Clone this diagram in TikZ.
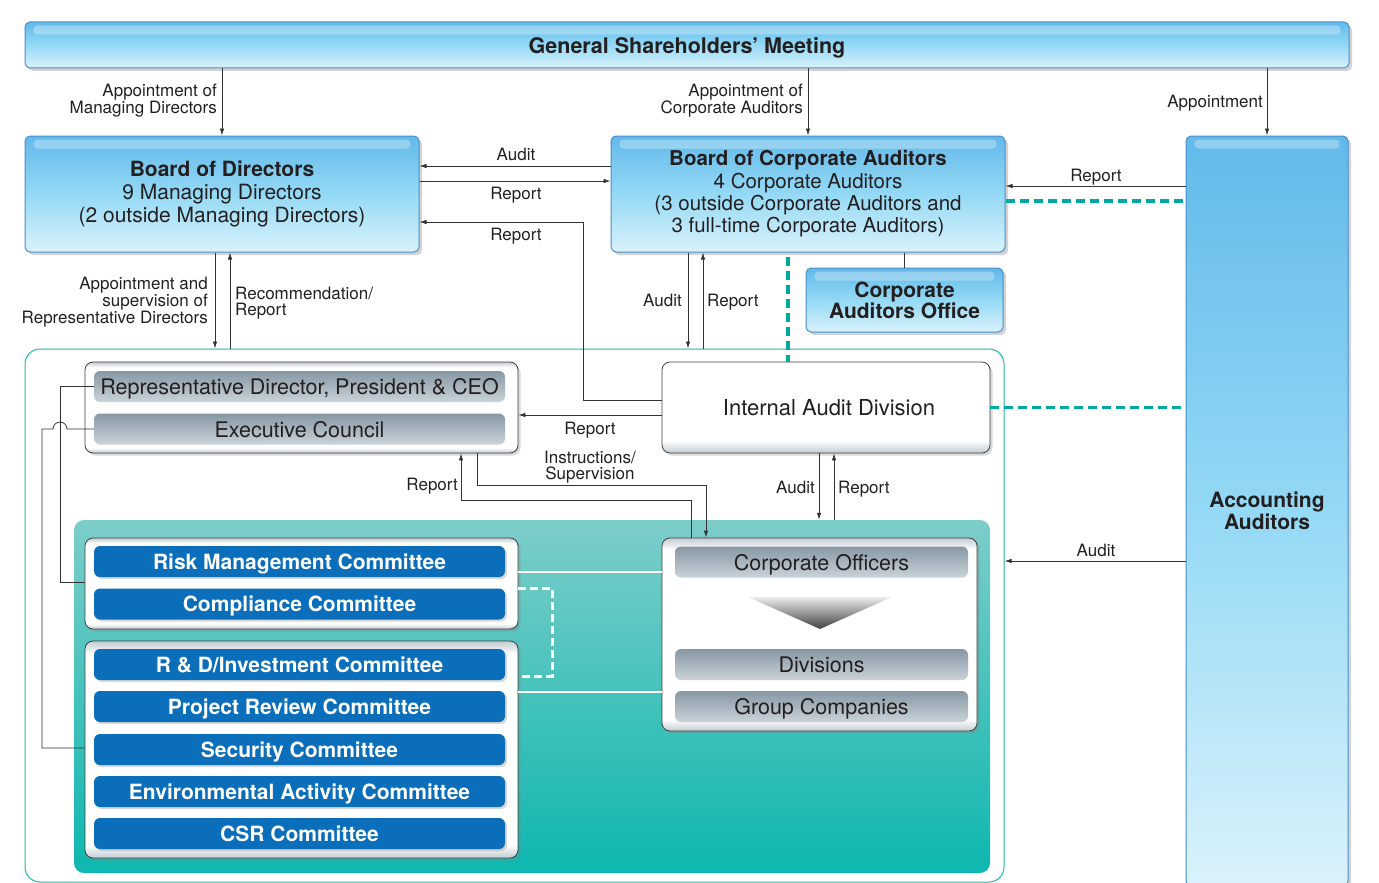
\documentclass[tikz,border=0pt]{standalone}
\usepackage{fontspec}
\setmainfont{TeX Gyre Heros}
\usetikzlibrary{shadows,arrows.meta,calc}
\definecolor{bbord}{HTML}{4A8FC9}
\definecolor{btop}{HTML}{62B9EA}
\definecolor{bmid}{HTML}{94D9F5}
\definecolor{bbot}{HTML}{DAF2FB}
\definecolor{tealc}{HTML}{00A99D}
\definecolor{tealtop}{HTML}{7DCDC9}
\definecolor{tealbot}{HTML}{0DB7AF}
\definecolor{cblue}{HTML}{0A6EBA}
\definecolor{gtop}{HTML}{8797A3}
\definecolor{gbot}{HTML}{C9D3DA}
\definecolor{grim}{HTML}{C2CCD3}
\definecolor{lnc}{HTML}{333333}
\definecolor{txt}{HTML}{231F20}
\pgfdeclareverticalshading{rim}{100bp}{color(0bp)=(grim); color(25bp)=(grim); color(28bp)=(white); color(72bp)=(white); color(75bp)=(grim); color(100bp)=(grim)}
\pgfdeclareverticalshading{iadsh}{100bp}{color(0bp)=(grim); color(25bp)=(grim); color(32bp)=(white); color(100bp)=(white)}
\newcommand\fsz[2]{\fontsize{#1pt}{#2pt}\selectfont}
\begin{document}
\begin{tikzpicture}[x=1pt,y=-1pt,
  bluebox/.style={draw=bbord, line width=1pt, rounded corners=5pt, top color=btop, bottom color=bbot, middle color=bmid, drop shadow={opacity=0.35,shadow xshift=3pt,shadow yshift=-3pt}, inner sep=0pt, align=center, text=txt},
  grp/.style={draw=black!75, line width=0.8pt, rounded corners=8pt, shade, shading=rim, drop shadow={opacity=0.3,shadow xshift=2.5pt,shadow yshift=-2.5pt}, inner sep=0pt, text=txt},
  graybar/.style={rounded corners=6pt, top color=gtop, bottom color=gbot, minimum width=411pt, minimum height=31pt, inner sep=0pt, text depth=0pt, font=\fsz{21.5}{22}, text=txt},
  bluebar/.style={rounded corners=6pt, fill=cblue, text=white, font=\bfseries\fsz{21}{22}, minimum width=411pt, minimum height=31pt, inner sep=0pt, text depth=0pt, drop shadow={opacity=0.3,shadow xshift=2pt,shadow yshift=-2pt}},
  lbl/.style={font=\fsz{17}{16}, text=txt, inner sep=0pt, text depth=0pt},
  arr/.style={draw=lnc, line width=0.8pt, -{Latex[length=7pt,width=4.5pt]}},
  ln/.style={draw=lnc, line width=0.8pt},
  tdash/.style={draw=tealc, line width=3.5pt, dash pattern=on 9pt off 5pt},
  wdash/.style={draw=white, line width=3pt, dash pattern=on 8pt off 4pt},
  wline/.style={draw=white, line width=1.8pt}
]
\useasboundingbox (0,0) rectangle (1379,883);

% outer container and teal area
\node[draw=tealc!85, line width=1pt, rounded corners=15pt, minimum width=979pt, minimum height=533pt, inner sep=0pt] (outer) at (514.5,615.5) {};
\node[rounded corners=10pt, top color=tealtop, bottom color=tealbot, minimum width=916pt, minimum height=353pt, inner sep=0pt] (tealarea) at (532,696.5) {};

% blue boxes
\node[bluebox, minimum width=1324pt, minimum height=46pt, text depth=0pt, font=\bfseries\fsz{21.5}{22}] (gsm) at (687,45) {General Shareholders’ Meeting};
\node[bluebox, minimum width=394pt, minimum height=116pt, font=\fsz{21}{23}] (bod) at (222,194) {\textbf{Board of Directors}\\9 Managing Directors\\(2 outside Managing Directors)};
\node[bluebox, minimum width=394pt, minimum height=116pt, font=\fsz{20.5}{22.3}] (bca) at (808,194) {\textbf{Board of Corporate Auditors}\\4 Corporate Auditors\\(3 outside Corporate Auditors and\\3 full-time Corporate Auditors)};
\node[bluebox, minimum width=162pt, minimum height=750pt, font=\bfseries\fsz{21}{22}] (aa) at (1267,511) {Accounting\\Auditors};
\node[bluebox, minimum width=197pt, minimum height=64pt, font=\bfseries\fsz{21}{21}] (cao) at (904.5,300) {Corporate\\Auditors Office};
\foreach \n in {gsm,bod,bca,aa,cao}{
  \fill[white,opacity=0.3,rounded corners=4pt] ($(\n.north west)+(9,4)$) rectangle ($(\n.north east)+(-9,13)$);
}

\coordinate (hopr) at (67,429);

% representative group
\node[grp, minimum width=433pt, minimum height=91pt] (rep) at (301.5,407.5) {};
\node[graybar] (ceo) at (299.5,386.5) {Representative Director, President \& CEO};
\node[graybar] (exec) at (299.5,429) {Executive Council};

% internal audit
\node[grp, shading=iadsh, minimum width=328pt, minimum height=91pt, text depth=0pt, font=\fsz{22}{22}] (iad) at (826,407.5) {\hspace*{6pt}Internal Audit Division};

% committees
\node[grp, minimum width=433pt, minimum height=91pt] (g1) at (301.5,583.5) {};
\node[bluebar] (risk) at (299.5,561.5) {Risk Management Committee};
\node[bluebar] (comp) at (299.5,604) {Compliance Committee};
\node[grp, minimum width=433pt, minimum height=217pt] (g2) at (301.5,749.5) {};
\node[bluebar] (rd) at (299.5,664.5) {R \& D/Investment Committee};
\node[bluebar] (pr) at (299.5,706.5) {Project Review Committee};
\node[bluebar] (sec) at (299.5,749.5) {Security Committee};
\node[bluebar] (env) at (299.5,791.5) {Environmental Activity Committee};
\node[bluebar] (csr) at (299.5,833.5) {CSR Committee};

% corporate officers
\node[grp, minimum width=315pt, minimum height=193pt] (co) at (819.5,634.5) {};
\node[graybar, minimum width=293pt] (cofc) at (821.5,562) {Corporate Officers};
\node[graybar, minimum width=293pt] (div) at (821.5,664.5) {Divisions};
\node[graybar, minimum width=293pt] (gc) at (821.5,706.5) {Group Companies};
\shade[top color=gray!15, bottom color=black!75] (748,597) -- (892,597) -- (820,629) -- cycle;

% white links
\draw[wline] (g1.east |- 0,572) -- (co.west |- 0,572);
\draw[wline] (g2.east |- 0,692) -- (co.west |- 0,692);
\draw[wdash] (g1.east |- 0,588) -- (552,588) -- (552,676) -- (g2.east |- 0,676);

% left gray links
\draw[ln] (ceo.west) -- (60,386.5) -- (60,582) -- (g1.west |- 0,582);
\draw[ln] (exec.west) -- (hopr) arc[start angle=0,end angle=-180,radius=7] -- (42,429) -- (42,748) -- (g2.west |- 0,748);

% teal dashed
\draw[tdash] (bca.east |- 0,201) -- (aa.west |- 0,201);
\draw[tdash] (788,257) -- (iad.north -| 788,0);
\draw[tdash] (iad.east) -- (aa.west |- iad.east);

% arrows from GSM
\draw[arr] (gsm.south -| bod.north) -- (bod.north);
\draw[arr] (gsm.south -| bca.north) -- (bca.north);
\draw[arr] (gsm.south -| aa.north) -- (aa.north);
\node[lbl, anchor=east, align=right] (l1) at (217,99) {Appointment of\\Managing Directors};
\node[lbl, anchor=east, align=right] (l2) at (803,99) {Appointment of\\Corporate Auditors};
\node[lbl, anchor=east, align=right] (l3) at (1263,101) {Appointment};

% BoD <-> BCA
\draw[arr] (bca.west |- 0,166) -- (bod.east |- 0,166);
\draw[arr] (bod.east |- 0,181) -- (bca.west |- 0,181);
\draw[arr] (iad.west |- 0,400) -- (583,400) -- (583,222) -- (bod.east |- 0,222);
\node[lbl] (l4) at (516,154) {Audit};
\node[lbl] (l5) at (516,193) {Report};
\node[lbl] (l6) at (516,234) {Report};

% AA -> BCA
\draw[arr] (aa.west |- 0,186) -- (bca.east |- 0,186);
\node[lbl] (l7) at (1096,175) {Report};
\draw[ln] (bca.south -| cao.north) -- (cao.north);

% BCA <-> outer
\draw[arr] (bca.south -| 688,0) -- (outer.north -| 688,0);
\draw[arr] (outer.north -| 703,0) -- (bca.south -| 703,0);
\node[lbl, anchor=east] (l8) at (682,300) {Audit};
\node[lbl, anchor=west] (l9) at (707,300) {Report};

% BoD <-> outer
\draw[arr] (bod.south -| 215,0) -- (outer.north -| 215,0);
\draw[arr] (outer.north -| 230,0) -- (bod.south -| 230,0);
\node[lbl, anchor=east, align=right] (l10) at (208,300) {Appointment and\\supervision of\\Representative Directors};
\node[lbl, anchor=west, align=left] (l11) at (235,301) {Recommendation/\\Report};

% IAD -> rep
\draw[arr] (iad.west |- 0,415) -- (rep.east |- 0,415);
\node[lbl] (l12) at (590,428) {Report};

% rep <-> CO
\draw[arr] (rep.south -| 477,0) -- (477,485) -- (706,485) -- (co.north -| 706,0);
\draw[arr] (co.north -| 691,0) -- (691,500) -- (461,500) -- (rep.south -| 461,0);
\node[lbl, align=center] (l13) at (590,465) {Instructions/\\Supervision};
\node[lbl, anchor=east] (l14) at (458,484) {Report};

% IAD <-> teal area
\draw[arr] (iad.south -| 819,0) -- (tealarea.north -| 819,0);
\draw[arr] (tealarea.north -| 834,0) -- (iad.south -| 834,0);
\node[lbl, anchor=east] (l15) at (815,487) {Audit};
\node[lbl, anchor=west] (l16) at (838,487) {Report};

% AA -> outer
\draw[arr] (aa.west |- 0,561) -- (outer.east |- 0,561);
\node[lbl] (l17) at (1096,550) {Audit};
\end{tikzpicture}
\end{document}
